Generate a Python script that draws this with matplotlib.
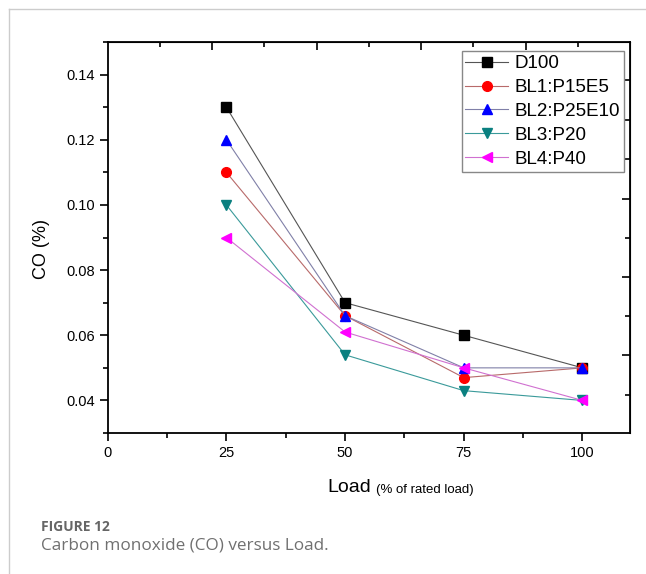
import matplotlib
matplotlib.use("Agg")
import matplotlib.pyplot as plt
from matplotlib.lines import Line2D

# data
loads = [25, 50, 75, 100]
d100 = [0.130, 0.070, 0.060, 0.050]
bl1 = [0.110, 0.066, 0.047, 0.050]
bl2 = [0.120, 0.066, 0.050, 0.050]
bl3 = [0.100, 0.054, 0.043, 0.040]
bl4 = [0.090, 0.061, 0.050, 0.040]
series_names = ["D100", "BL1:P15E5", "BL2:P25E10", "BL3:P20", "BL4:P40"]
x_ticks = [0, 25, 50, 75, 100]
y_ticks = [0.04, 0.06, 0.08, 0.10, 0.12, 0.14]

plt.rcParams['font.family'] = ['Liberation Sans', 'DejaVu Sans']

fig = plt.figure(figsize=(6.46, 5.74), dpi=100)
ax = fig.add_axes([0.1667, 0.2456, 0.8085, 0.6812])

styles = [
    dict(marker='s', mfc='black', mec='black', color='#555555'),
    dict(marker='o', mfc='red', mec='red', color='#b86a6a'),
    dict(marker='^', mfc='blue', mec='blue', color='#8080a8'),
    dict(marker='v', mfc='#0a8080', mec='#0a8080', color='#3a9a9a'),
    dict(marker='<', mfc='magenta', mec='magenta', color='#d070d0'),
]
for vals, name, st in zip([d100, bl1, bl2, bl3, bl4], series_names, styles):
    ax.plot(loads, vals, lw=0.8, ms=7, label=name, **st)

ax.set_xlim(0, 110)
ax.set_ylim(0.03, 0.15)
ax.set_xticks(x_ticks)
ax.set_xticks([12.5, 37.5, 62.5, 87.5], minor=True)
ax.set_yticks(y_ticks)
ax.set_yticklabels(["%.2f" % v for v in y_ticks])
ax.set_yticks([0.03, 0.05, 0.07, 0.09, 0.11, 0.13, 0.15], minor=True)
ax.tick_params(which='major', direction='out', length=6, width=1.2,
               labelsize=10.5, pad=3)
ax.tick_params(which='minor', direction='out', length=3.5, width=1.2)
for sp in ax.spines.values():
    sp.set_linewidth(1.3)

# odd offset ticks on the top and right, as in the original
top = ax.secondary_xaxis('top')
top.set_xticks([22, 44, 66, 88])
top.set_xticks([11, 33, 55, 77, 99], minor=True)
top.set_xticklabels([])
top.tick_params(which='major', direction='in', length=6, width=1.2)
top.tick_params(which='minor', direction='in', length=3.5, width=1.2)
right = ax.secondary_yaxis('right')
right.set_yticks([0.0538, 0.0778, 0.1018, 0.1262])
right.set_yticks([0.0418, 0.0658, 0.0898, 0.1140, 0.1382], minor=True)
right.set_yticklabels([])
right.tick_params(which='major', direction='in', length=6, width=1.2)
right.tick_params(which='minor', direction='in', length=3.5, width=1.2)

leg = ax.legend(loc='upper right', bbox_to_anchor=(0.988, 0.976), fontsize=13.5,
                frameon=True, fancybox=False, framealpha=1, edgecolor='#888888',
                borderpad=0.2, labelspacing=0.36, handlelength=2.3,
                handletextpad=0.32, borderaxespad=0)
leg.get_frame().set_linewidth(1.0)

fig.text(0.065, 0.566, "CO (%)", rotation=90, ha='center', va='center', fontsize=13)
fig.text(327 / 646, 1 - 488 / 574, "Load", ha='left', va='center', fontsize=14)
fig.text(376 / 646, 1 - 490 / 574, "(% of rated load)", ha='left', va='center',
         fontsize=9.5)

# journal page frame and caption
fig.add_artist(Line2D([9 / 646, 1], [1 - 9 / 574, 1 - 9 / 574], color='#cccccc', lw=1))
fig.add_artist(Line2D([9 / 646, 9 / 646], [0, 1 - 9 / 574], color='#cccccc', lw=1))
fig.text(41 / 646, 1 - 527 / 574, "FIGURE 12", ha='left', va='center', fontsize=10,
         color='#666666', fontweight='bold', family=['Open Sans', 'DejaVu Sans'])
fig.text(41 / 646, 1 - 546 / 574, "Carbon monoxide (CO) versus Load.", ha='left',
         va='center', fontsize=12.3, color='#707070', family=['Open Sans', 'DejaVu Sans'])

fig.savefig("out.png", dpi=100)
